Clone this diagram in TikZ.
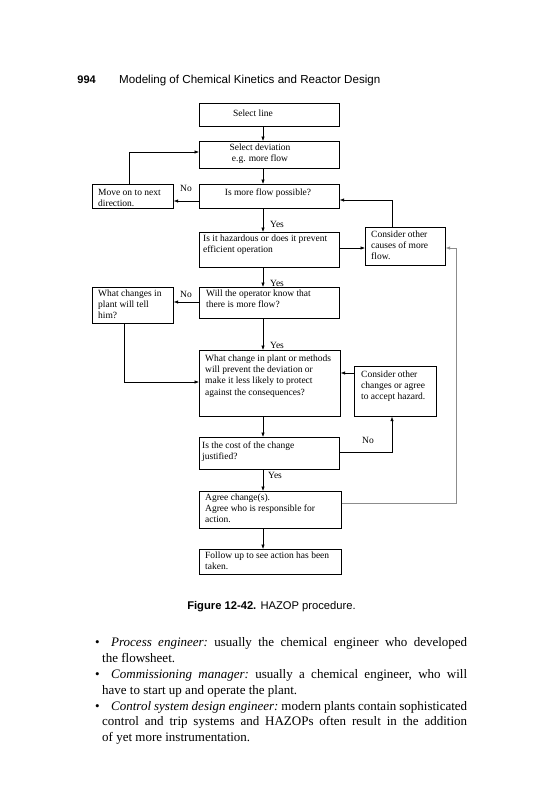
\documentclass[tikz,border=0pt]{standalone}
\usepackage{fontspec}
\setmainfont{Liberation Serif}
\newfontfamily\hsans{Liberation Sans}
\usetikzlibrary{arrows.meta,calc}
\newcommand\dtextfnt{\fontsize{9.5}{11.1}\selectfont}
\newcommand\bodyfnt{\fontsize{13}{15.8}\selectfont\frenchspacing}
\begin{document}
\begin{tikzpicture}[x=1pt,y=-1pt,
  box/.style={draw, line width=0.7pt, inner sep=0pt, anchor=north west},
  txt/.style={anchor=north west, inner sep=0pt, align=left, font=\dtextfnt},
  ctxt/.style={inner sep=0pt, align=center, font=\dtextfnt},
  arr/.style={-{Latex[length=4.5pt,width=3.5pt]}, line width=0.6pt},
  faint/.style={arr, draw=black!45},
  lbl/.style={font=\dtextfnt, inner sep=0pt},
  bodyline/.style={anchor=base west, inner sep=0pt, font=\bodyfnt}
]
\useasboundingbox (0,0) rectangle (541,800);

% header
\node[anchor=base east, inner sep=0pt, font=\hsans\bfseries\fontsize{11}{13}\selectfont] (pg) at (96,83) {994};
\node[anchor=base west, inner sep=0pt, font=\hsans\fontsize{11.6}{13}\selectfont] (title) at (119,83) {Modeling of Chemical Kinetics and Reactor Design};

% boxes
\node[box, minimum width=140pt, minimum height=23pt] (sl) at (199,103) {};
\node[box, minimum width=140pt, minimum height=27pt] (sd) at (199,141) {};
\node[box, minimum width=140pt, minimum height=24pt] (mf) at (199,184) {};
\node[box, minimum width=81pt, minimum height=24pt] (mo) at (92,184) {};
\node[box, minimum width=140pt, minimum height=35pt] (hz) at (199,232) {};
\node[box, minimum width=80pt, minimum height=38pt] (cc) at (365,227) {};
\node[box, minimum width=140pt, minimum height=31pt] (wo) at (199,287) {};
\node[box, minimum width=81pt, minimum height=36pt] (wc) at (92,287) {};
\node[box, minimum width=141pt, minimum height=66pt] (pc) at (199,350) {};
\node[box, minimum width=82pt, minimum height=50pt] (oc) at (354,366) {};
\node[box, minimum width=140pt, minimum height=32pt] (cost) at (199,437) {};
\node[box, minimum width=142pt, minimum height=37pt] (ag) at (199,491) {};
\node[box, minimum width=142pt, minimum height=25pt] (fu) at (199,549) {};

% box texts
\node[ctxt] (slt) at (253,113) {Select line};
\node[ctxt] (sdt) at (260,154) {Select deviation\\e.g. more flow};
\node[ctxt] (mft) at (268,193) {Is more flow possible?};
\node[txt] (mot) at (98,189) {Move on to next\\direction.};
\node[txt] (hzt) at (203,235) {Is it hazardous or does it prevent\\efficient operation};
\node[txt] (cct) at (371,231) {Consider other\\causes of more\\flow.};
\node[txt] (wot) at (206,290) {Will the operator know that\\there is more flow?};
\node[txt] (wct) at (98,290) {What changes in\\plant will tell\\him?};
\node[txt] (pct) at (205,355) {What change in plant or methods\\will prevent the deviation or\\make it less likely to protect\\against the consequences?};
\node[txt] (oct) at (361,371) {Consider other\\changes or agree\\to accept hazard.};
\node[txt] (costt) at (202,442) {Is the cost of the change\\justified?};
\node[txt] (agt) at (205,494) {Agree change(s).\\Agree who is responsible for\\action.};
\node[txt] (fut) at (205,552) {Follow up to see action has been\\taken.};

% helper coordinates
\coordinate (cx) at (263,0);
\coordinate (yA) at (0,201);
\coordinate (xB) at (129,0);
\coordinate (yC) at (0,152);
\coordinate (yD) at (0,248);
\coordinate (xE) at (392,0);
\coordinate (yF) at (0,200);
\coordinate (yG) at (0,503);
\coordinate (xH) at (456,0);
\coordinate (yI) at (0,302);
\coordinate (xJ) at (124,0);
\coordinate (yK) at (0,382);
\coordinate (yL) at (0,373);
\coordinate (yM) at (0,452);

% connectors
\draw[arr] (sl.south -| cx) -- (sd.north -| cx);
\draw[arr] (sd.south -| cx) -- (mf.north -| cx);
\draw[arr] (mf.west |- yA) -- (mo.east |- yA);
\draw[arr] (mo.north -| xB) |- (sd.west |- yC);
\draw[arr] (mf.south -| cx) -- (hz.north -| cx);
\draw[arr] (hz.east |- yD) -- (cc.west |- yD);
\draw[arr] (cc.north -| xE) |- (mf.east |- yF);
\draw[faint] (ag.east |- yG) -| (xH |- yD) -- (cc.east |- yD);
\draw[arr] (hz.south -| cx) -- (wo.north -| cx);
\draw[arr] (wo.west |- yI) -- (wc.east |- yI);
\draw[arr] (wc.south -| xJ) |- (pc.west |- yK);
\draw[arr] (wo.south -| cx) -- (pc.north -| cx);
\draw[arr] (oc.west |- yL) -- (pc.east |- yL);
\draw[arr] (pc.south -| cx) -- (cost.north -| cx);
\draw[arr] (cost.east |- yM) -| (oc.south -| xE);
\draw[arr] (cost.south -| cx) -- (ag.north -| cx);
\draw[arr] (ag.south -| cx) -- (fu.north -| cx);

% labels
\node[lbl] (no1) at (186,188) {No};
\node[lbl] (yes1) at (277,224) {Yes};
\node[lbl] (yes2) at (277,283) {Yes};
\node[lbl] (no2) at (186,294) {No};
\node[lbl] (yes3) at (277,345) {Yes};
\node[lbl] (no3) at (368,440) {No};
\node[lbl] (yes4) at (275,475) {Yes};

% caption
\node[inner sep=0pt, anchor=base, font=\hsans\fontsize{11.2}{13}\selectfont] (cap) at (271.5,609) {\textbf{Figure 12-42.} HAZOP procedure.};

% body text
\node[bodyline] (b1) at (95,646) {\textbullet};
\node[bodyline] (l1) at (111,646) {\makebox[356pt][s]{\textit{Process engineer:} usually the chemical engineer who developed}};
\node[bodyline] (l2) at (102,662) {the flowsheet.};
\node[bodyline] (b2) at (95,678) {\textbullet};
\node[bodyline] (l3) at (111,678) {\makebox[356pt][s]{\textit{Commissioning manager:} usually a chemical engineer, who will}};
\node[bodyline] (l4) at (102,694) {have to start up and operate the plant.};
\node[bodyline] (b3) at (95,710) {\textbullet};
\node[bodyline] (l5) at (111,710) {\makebox[356pt][s]{\textit{Control system design engineer:} modern plants contain sophisticated}};
\node[bodyline] (l6) at (102,725.8) {\makebox[365pt][s]{control and trip systems and HAZOPs often result in the addition}};
\node[bodyline] (l7) at (102,741.6) {of yet more instrumentation.};
\end{tikzpicture}
\end{document}
